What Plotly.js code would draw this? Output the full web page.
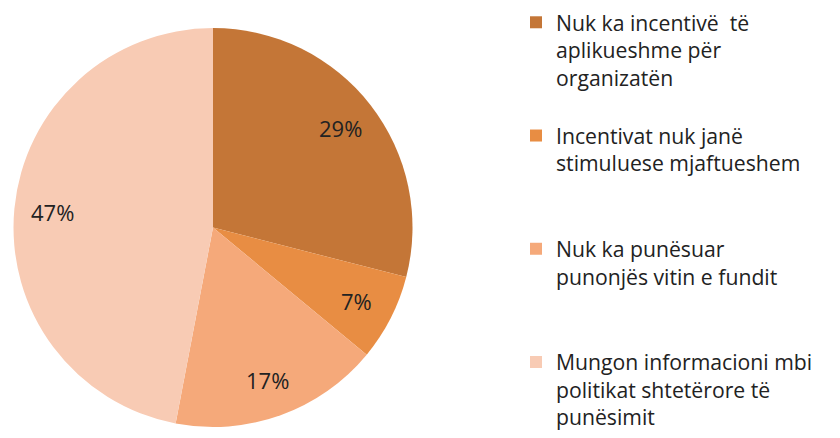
<!DOCTYPE html>
<html><head><meta charset="utf-8">
<script src="https://cdn.plot.ly/plotly-3.0.1.min.js"></script>
<style>html,body{margin:0;padding:0;background:#fff}</style>
</head><body><div id="chart" style="width:840px;height:438px"></div>
<script>
const labels = [
  "Nuk ka incentivë  të<br>aplikueshme për<br>organizatën<br>&nbsp;",
  "Incentivat nuk janë<br>stimuluese mjaftueshem<br>&nbsp;<br>&nbsp;",
  "Nuk ka punësuar<br>punonjës vitin e fundit<br>&nbsp;<br>&nbsp;",
  "Mungon informacioni mbi<br>politikat shtetërore të<br>punësimit"
];
const values = [29, 7, 17, 47];
const colors = ["#C47637", "#E88D43", "#F5A97A", "#F8CBB4"];

const W = 840, H = 438;
const pieX = [13, 413], pieY = [28, 427];
const domain = {x: [pieX[0]/W, pieX[1]/W], y: [1 - pieY[1]/H, 1 - pieY[0]/H]};
const font = "'Open Sans', sans-serif";

// percent labels placed along each slice's mid-angle
const total = values.reduce((a, b) => a + b, 0);
const cx = (pieX[0] + pieX[1]) / 2, cy = (pieY[0] + pieY[1]) / 2;
const R = Math.min(pieX[1] - pieX[0], pieY[1] - pieY[0]) / 2;
let cum = 0;
const annotations = values.map(v => {
  const mid = (cum + v / 2) / total * 2 * Math.PI;
  cum += v;
  const px = cx + 0.81 * R * Math.sin(mid);
  const py = cy - 0.81 * R * Math.cos(mid);
  return {
    xref: "paper", yref: "paper", x: px / W, y: 1 - py / H,
    text: Math.round(v / total * 100) + "%", showarrow: false,
    xanchor: "center", yanchor: "middle",
    font: {family: font, size: 22, color: "#222"}
  };
});

const data = [{
  type: "pie",
  labels: labels,
  values: values,
  sort: false,
  direction: "clockwise",
  rotation: 0,
  marker: {colors: colors, line: {color: "#ffffff", width: 0}},
  textinfo: "none",
  domain: domain,
  hoverinfo: "none"
}];
const layout = {
  width: W, height: H,
  margin: {l: 0, r: 0, t: 0, b: 0},
  paper_bgcolor: "#fff",
  showlegend: true,
  annotations: annotations,
  legend: {
    x: 516/W, y: 1 - 8/H, xanchor: "left", yanchor: "top",
    valign: "top",
    font: {family: font, size: 21.2, color: "#222"},
    itemwidth: 30,
    bgcolor: "rgba(0,0,0,0)"
  }
};
Plotly.newPlot("chart", data, layout, {staticPlot: true});
</script></body></html>
